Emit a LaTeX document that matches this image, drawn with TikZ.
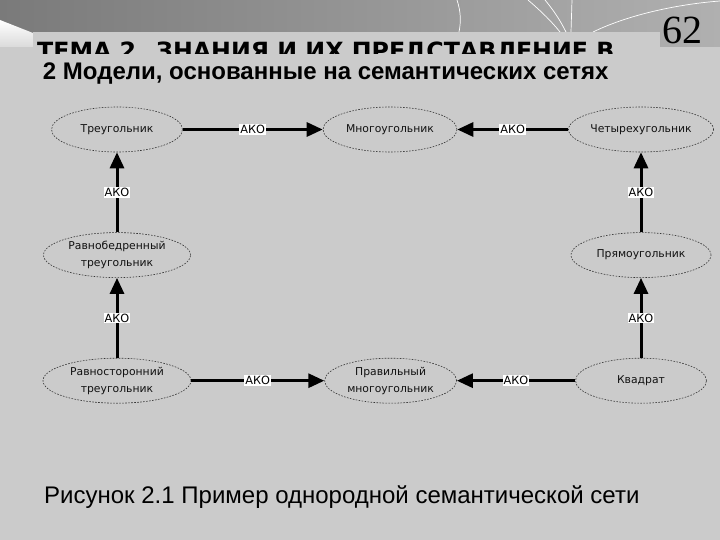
\documentclass[tikz,border=0pt]{standalone}
\usepackage{fontspec}
\setmainfont{DejaVu Sans}
\newfontfamily\headfont{Liberation Sans}
\newfontfamily\numfont{Liberation Serif}
\usepackage{tikz}
\usetikzlibrary{arrows.meta,positioning,shapes.geometric}
\definecolor{slide}{HTML}{CBCBCB}
\definecolor{banddark}{HTML}{7A7A7A}
\definecolor{bandlight}{HTML}{B0B0B0}
\definecolor{ink}{HTML}{111111}
\tikzset{
  concept/.style={ellipse,draw=ink!85,dash pattern=on 1.6pt off 1.4pt,line width=.6pt,inner sep=0pt,minimum height=45pt,align=center,font=\fontsize{10.8}{17}\selectfont,text=ink},
  ako/.style={-{Triangle[length=16pt,width=14pt]},line width=3pt,draw=black},
  akolabel/.style={fill=white,inner sep=1pt,font=\fontsize{11.3}{12}\selectfont,text=black},
  deco/.style={draw=white,line width=.7pt},
  slidetitle/.style={anchor=base west,inner sep=0pt,font=\fontsize{23.7}{26}\bfseries\selectfont,text=black},
  slidehead/.style={anchor=base west,inner sep=0pt,font=\headfont\fontsize{24}{28}\bfseries\selectfont,text=black},
  caption/.style={anchor=base west,inner sep=0pt,font=\headfont\fontsize{24}{28}\selectfont,text=black}
}
\begin{document}
\begin{tikzpicture}[x=1pt,y=-1pt]
\path[use as bounding box] (0,0) rectangle (720,540);
\shade[left color=banddark,right color=bandlight] (0,0) rectangle (720,47);
\shade[top color=white,bottom color=slide!70!white] (0,20)--(33,33)--(33,47)--(0,47)--cycle;
\draw[deco] (457,0) .. controls (461,12) and (461,22) .. (459,32);
\draw[deco] (528,0) .. controls (542,12) and (552,22) .. (560,32);
\draw[deco] (545,0) .. controls (555,12) and (561,22) .. (566,32);
\draw[deco] (572,0) -- (571,32);
\draw[deco] (593,32) .. controls (630,14) and (680,4) .. (720,1);
\draw[deco] (695,47) -- (720,47);
\fill[slide] (0,47) rectangle (720,540);
\fill[slide] (33,32) rectangle (660,47);
\begin{scope}
\clip (33,32) rectangle (660,53.3);
\node[slidetitle] (title) at (37,59.7) {ТЕМА 2. ЗНАНИЯ И ИХ ПРЕДСТАВЛЕНИЕ В};
\end{scope}
\node[anchor=base west,inner sep=0pt,font=\numfont\fontsize{40}{44}\selectfont] (page) at (662,43.3) {62};
\node[slidehead] (head) at (42.7,80) {2 Модели, основанные на семантических сетях};
\node[caption] (cap) at (44,503.3) {Рисунок 2.1 Пример однородной семантической сети};

\node[concept,minimum width=131pt] (tri) at (117,129.5) {Треугольник};
\node[concept,minimum width=134pt] (poly) at (390,129.5) {Многоугольник};
\node[concept,minimum width=145pt] (quad) at (641,129.5) {Четырехугольник};
\node[concept,minimum width=147pt,below=80pt of tri] (isos) {Равнобедренный\\треугольник};
\node[concept,minimum width=140pt,below=80pt of quad] (rect) {Прямоугольник};
\node[concept,minimum width=148pt,below=80pt of isos] (equi) {Равносторонний\\треугольник};
\node[concept,minimum width=131pt,below=80pt of rect] (square) {Квадрат};
\node[concept,minimum width=132pt,right=133pt of equi] (reg) {Правильный\\многоугольник};
\foreach \a/\b in {tri/poly,quad/poly,isos/tri,equi/isos,rect/quad,square/rect,equi/reg,square/reg}\draw[ako] (\a)-- node[akolabel]{АКО} (\b);
\end{tikzpicture}
\end{document}
